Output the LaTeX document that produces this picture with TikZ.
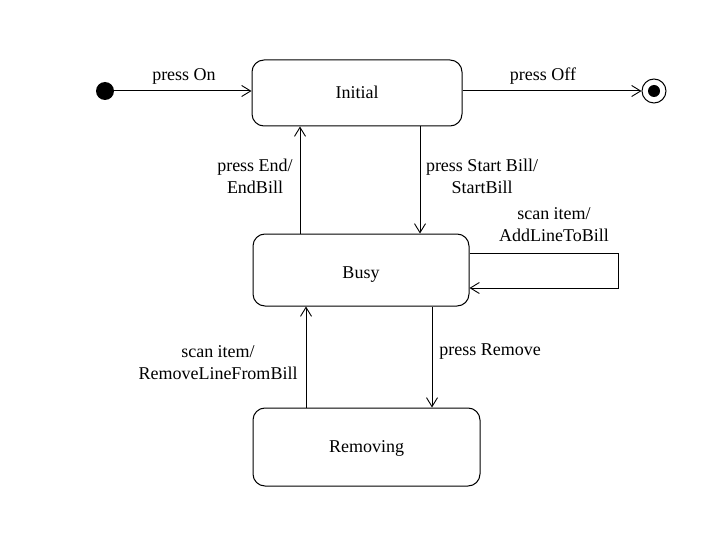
\documentclass[tikz,border=0pt]{standalone}
\usepackage{fontspec}
\setmainfont{Liberation Serif}
\usetikzlibrary{arrows.meta}
\begin{document}
\begin{tikzpicture}[x=1pt,y=-1pt,
  every node/.style={font=\fontsize{18}{22}\selectfont},
  state/.style={draw,line width=1pt,rounded corners=12pt,inner sep=0pt,text height=12pt,text depth=0.8pt},
  lbl/.style={inner sep=0pt,align=center,font=\fontsize{18}{22}\selectfont},
  arr/.style={line width=1pt,-{Straight Barb[length=9pt,width=11pt,line width=0.9pt]}}]
\useasboundingbox (0,0) rectangle (720,540);
\fill[white] (0,0) rectangle (720,540);
% states
\node[state,minimum width=210pt,minimum height=66pt] (initial) at (357,93) {Initial};
\node[state,minimum width=216pt,minimum height=72pt,text height=18pt] (busy) at (361,270) {Busy};
\node[state,minimum width=227pt,minimum height=78pt] (removing) at (366.5,447) {Removing};
% pseudo states
\node[circle,fill,inner sep=0pt,minimum size=18pt] (start) at (105,91) {};
\node[circle,draw,line width=1pt,inner sep=0pt,minimum size=24pt] (final) at (654,91) {};
\node[circle,fill,inner sep=0pt,minimum size=12pt] (finaldot) at (final.center) {};
% transitions
\draw[arr] (start) -- (start -| initial.west);
\draw[arr] (initial.east |- final) -- (final.west);
\draw[arr] ([xshift=-61pt]busy.north) -- ([xshift=-61pt]busy.north |- initial.south);
\draw[arr] ([xshift=63pt]initial.south) -- ([xshift=63pt]initial.south |- busy.north);
\draw[arr] ([yshift=17pt]busy.east) -- ++(149,0) -- ++(0,35) -- ([yshift=-18pt]busy.east);
\draw[arr] ([xshift=-60.5pt]removing.north) -- ([xshift=-60.5pt]removing.north |- busy.south);
\draw[arr] ([xshift=71pt]busy.south) -- ([xshift=71pt]busy.south |- removing.north);
% labels
\node[lbl] (lOn) at (184,76) {press On};
\node[lbl] (lOff) at (543,76) {press Off};
\node[lbl] (lEnd) at (255,176) {press End/\\EndBill};
\node[lbl] (lStart) at (482,176) {press Start Bill/\\StartBill};
\node[lbl] (lAdd) at (554,225) {scan item/\\AddLineToBill};
\node[lbl] (lRem) at (218,363) {scan item/\\RemoveLineFromBill};
\node[lbl] (lPress) at (490,352) {press Remove};
\end{tikzpicture}
\end{document}
